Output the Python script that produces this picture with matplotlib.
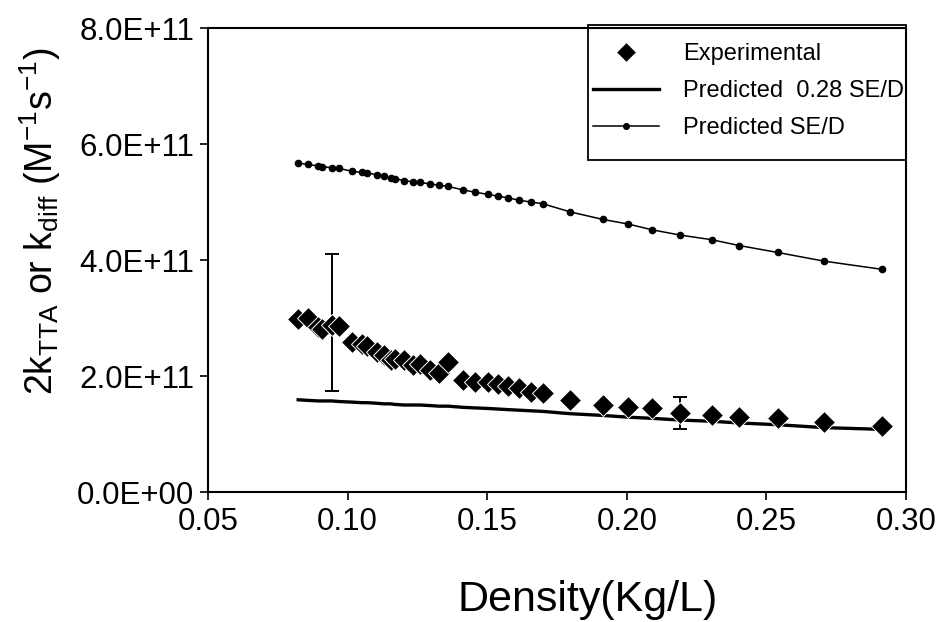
import numpy as np
import matplotlib
matplotlib.use("Agg")
import matplotlib.pyplot as plt
from matplotlib.patches import Rectangle
from matplotlib.ticker import FuncFormatter

plt.rcParams['font.family'] = ['Liberation Sans', 'DejaVu Sans']

# density (Kg/L)
density = [0.0823, 0.0857, 0.0895, 0.0907, 0.0943, 0.0969, 0.1015, 0.1051, 0.1071,
           0.1104, 0.1130, 0.1154, 0.1170, 0.1202, 0.1233, 0.1259, 0.1295, 0.1328,
           0.1359, 0.1412, 0.1456, 0.1504, 0.1540, 0.1576, 0.1615, 0.1656, 0.1699,
           0.1797, 0.1914, 0.2005, 0.2091, 0.2191, 0.2304, 0.2402, 0.2540, 0.2707,
           0.2913]

# rate constants in units of 1E+11 M-1 s-1
experimental = [2.98, 3.00, 2.85, 2.81, 2.88, 2.86, 2.59, 2.56, 2.52, 2.42, 2.36, 2.28,
                2.29, 2.28, 2.19, 2.21, 2.10, 2.05, 2.24, 1.93, 1.90, 1.90, 1.87, 1.82,
                1.79, 1.73, 1.70, 1.59, 1.50, 1.47, 1.44, 1.36, 1.33, 1.30, 1.27, 1.21,
                1.13]

pred_sed = [5.67, 5.65, 5.62, 5.61, 5.59, 5.58, 5.53, 5.51, 5.50, 5.47, 5.44, 5.41,
            5.40, 5.37, 5.35, 5.34, 5.31, 5.29, 5.27, 5.21, 5.17, 5.13, 5.10, 5.07,
            5.03, 5.00, 4.97, 4.83, 4.70, 4.62, 4.52, 4.43, 4.35, 4.25, 4.13, 3.98,
            3.84]

pred_028 = [1.59, 1.58, 1.57, 1.57, 1.57, 1.56, 1.55, 1.54, 1.54, 1.53, 1.52, 1.52,
            1.51, 1.50, 1.50, 1.50, 1.49, 1.48, 1.48, 1.46, 1.45, 1.44, 1.43, 1.42,
            1.41, 1.40, 1.39, 1.35, 1.32, 1.29, 1.27, 1.24, 1.22, 1.19, 1.16, 1.11,
            1.08]

# error bars (density, value, lower, upper) in 1E+11
err_density = [0.0943, 0.2191]
err_value = [2.88, 1.36]
err_low = [1.14, 0.28]
err_high = [1.22, 0.28]

scale = 1e11
W, H = 936, 622

fig = plt.figure(figsize=(9.36, 6.22), dpi=100)
ax = fig.add_axes([208 / W, 1 - 492 / H, (906 - 208) / W, (492 - 28) / H])

ax.errorbar(err_density, np.array(err_value) * scale,
            yerr=[np.array(err_low) * scale, np.array(err_high) * scale],
            fmt='none', ecolor='black', elinewidth=1.4, capsize=5, capthick=1.4, zorder=2)

ax.plot(density, np.array(experimental) * scale, linestyle='none', marker='D',
        markersize=11, color='black', markeredgecolor='white', markeredgewidth=0.7,
        label='Experimental', zorder=4)
ax.plot(density, np.array(pred_028) * scale, color='black', linewidth=2.4,
        label='Predicted  0.28 SE/D', zorder=3)
ax.plot(density, np.array(pred_sed) * scale, color='black', linewidth=1.1, marker='o',
        markersize=4.5, label='Predicted SE/D', zorder=3)

ax.set_xlim(0.05, 0.30)
ax.set_ylim(0, 8e11)
ax.set_xticks([0.05, 0.10, 0.15, 0.20, 0.25, 0.30])
ax.set_yticks([0, 2e11, 4e11, 6e11, 8e11])
ax.xaxis.set_major_formatter(FuncFormatter(lambda v, p: '%.2f' % v))
ax.yaxis.set_major_formatter(FuncFormatter(lambda v, p: '%.1E' % v))
ax.tick_params(axis='both', direction='out', length=6, width=1.2, labelsize=22.5,
               colors='black', pad=4)
ax.tick_params(axis='x', pad=5)
for s in ax.spines.values():
    s.set_linewidth(1.5)
    s.set_color('black')

# legend entries without frame, frame drawn as a box like the original
leg = ax.legend(loc='upper left', bbox_to_anchor=(593 / W, 1 - 43 / H),
                bbox_transform=fig.transFigure, fontsize=17, frameon=False,
                borderaxespad=0, borderpad=0, handlelength=2.8, handletextpad=1.0,
                labelspacing=0.64, markerscale=0.9)
fig.patches.append(Rectangle((588 / W, 1 - 160 / H), (906 - 588) / W, (160 - 25) / H,
                             transform=fig.transFigure, fill=False,
                             edgecolor='black', linewidth=1.3, zorder=5))

fig.text(588 / W, 1 - 600 / H, 'Density(Kg/L)', fontsize=31, ha='center', va='center')
fig.text(40 / W, 1 - 221 / H,
         r'2k$_{\mathregular{TTA}}$ or k$_{\mathregular{diff}}$ (M$^{\mathregular{-1}}$s$^{\mathregular{-1}}$)',
         fontsize=27, rotation=90, ha='center', va='center')

fig.savefig('out.png', dpi=100, facecolor='white')
